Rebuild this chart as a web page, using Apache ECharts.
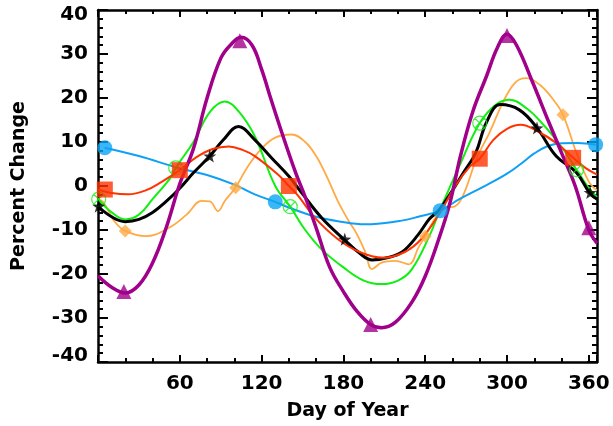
<!DOCTYPE html>
<html><head><meta charset="utf-8">
<script src="https://cdn.jsdelivr.net/npm/echarts@6/dist/echarts.min.js"></script>
<style>html,body{margin:0;padding:0;background:#fff}#c{width:613px;height:426px}</style>
</head><body><div id="c"></div>
<script>
// ---- data (Day of Year, Percent Change) ----
const purpleDays = [0,10,20,30,40,50,60,70,80,90,97,105,113,120,127,135,145,152,160,170,180,190,200,208,218,230,240,250,258,266,275,285,293,300,307,319,330,341,350,360,366];
const purpleVals = [-20.4,-23,-24.3,-22.5,-17.5,-9.5,0.5,8.5,20,29,32,33.8,32,26.5,19.6,12,3,-2.5,-9.5,-18.5,-24,-28.5,-31.5,-32.2,-31,-26.5,-20.5,-12,-4,7,17,25,31.5,34.5,32,23.4,15,6.8,0,-10,-13];
const purpleMarkDays = [19,104,200,300,360];
const purpleMarkVals = [-24,33,-31.5,34.2,-9.5];

const blackDays = [0,10,20,30,40,50,60,70,82,92,103,115,127,140,150,164,180,192,201,212,223,235,243,250,260,268,277,285,295,309,322,336,351,360.5,366];
const blackVals = [-4.6,-7,-8.1,-7.6,-6,-3.5,-0.5,3,6.8,10.5,13.5,10.5,6.5,2.2,-1.8,-7.2,-12,-15.3,-16.8,-16.3,-15,-11,-7.5,-5.5,-1,3,7.5,14.5,18.5,17.3,13.2,6.8,3,-1.5,-3];
const blackMarkDays = [0.5,82,181,322,361];
const blackMarkVals = [-4.6,6.8,-12.1,13.2,-1.5];

const greenDays = [0,10,20,30,40,54,57,70,82,93,103,115,130,141,152,164,180,195,208,220,230,243,251,265,280,292,302,315,325,334,342,351,360,366];
const greenVals = [-3,-6,-7.6,-6.5,-3,2.2,4.1,10,16.8,19.2,17,11.3,0,-4.7,-10,-14.4,-18.5,-21.5,-22.3,-21.5,-19,-11.4,-5.3,4.5,14.3,18.5,19.6,17.5,14.5,11.3,8,3.7,-0.5,-2.5];
const greenMarkDays = [0.5,57,141,280,351];
const greenMarkVals = [-3,4.1,-4.7,14.3,3.7];

const redDays = [0,10,22,35,47,60,72,84,96,106,115,132,140,147,159,176,192,210,225,237,251,262,273,280,290,300,310,322,336,348.5,358,366];
const redVals = [-0.8,-1.6,-1.9,-1,1,3.6,6.5,8.4,9,8.2,6.8,2.6,0,-2.3,-7.2,-12.1,-15,-16.3,-15,-12.1,-6,0,4.5,6.2,10.5,13,13.9,12.5,9.8,6.4,4,2.6];
const redMarkDays = [5,60,140,280,348.5];
const redMarkVals = [-0.8,3.6,0,6.2,6.4];

const orangeDays = [0,4,12,20,35,52,65,76,82,88,93,100.7,110,120,130,142,152,160,168,176,184,190,196,201,208,218,228,235,240,248,255,262,268,278,287,297,306,314,324,334,341,351,360,366];
const orangeVals = [-3,-3.7,-8,-10.2,-11.4,-9.5,-6.5,-3.4,-3.5,-5.7,-3.4,-0.4,4.5,8.5,11,11.7,10,6.8,2,-3.5,-8,-11,-15,-18.9,-17.4,-17,-17.8,-14,-11.4,-7,-5,-4.6,-2,6.5,12,19,23.5,24.5,23,19.6,16.2,7.5,1,-1];
const orangeMarkDays = [20,101,240,341];
const orangeMarkVals = [-10.2,-0.4,-11.4,16.2];

const blueDays = [4.8,30,59,80,100,115,130,140,160,176,196,220,235,250.8,265,285,300,310,320,330,340,352,365];
const blueVals = [8.7,6.8,4.1,2.5,0.3,-1.9,-3.6,-4.9,-7,-8,-8.7,-8,-7,-5.6,-3,0.2,2.8,5,7.4,9.1,9.7,9.8,9.4];
const blueMarkDays = [5,130,251,365];
const blueMarkVals = [8.7,-3.6,-5.6,9.4];

const xTicks = [60,120,180,240,300,360];
const yTicks = [-40,-30,-20,-10,0,10,20,30,40];

// ---- helpers ----
const zip = (a, b) => a.map((d, i) => [d, b[i]]);
const FONT = 'DejaVu Sans';
const starPath = 'path://M0,-10 L2.4,-3.2 9.5,-3.1 3.8,1.2 5.9,8.1 0,4 -5.9,8.1 -3.8,1.2 -9.5,-3.1 -2.4,-3.2 Z';
const circXPath = 'path://M10,0 A10,10 0 1,1 -10,0 A10,10 0 1,1 10,0 Z M-7.07,-7.07 L7.07,7.07 M7.07,-7.07 L-7.07,7.07';

function lineSeries(days, vals, color, width, z) {
  return { type: 'line', data: zip(days, vals), smooth: 0.4, showSymbol: false, symbol: 'none',
    lineStyle: { color: color, width: width }, z: z, clip: true, silent: true };
}
function markSeries(days, vals, symbol, size, style, z) {
  return { type: 'scatter', data: zip(days, vals), symbol: symbol, symbolSize: size,
    itemStyle: style, z: z, clip: false, silent: true };
}

const axisCommon = {
  axisLine: { onZero: false, lineStyle: { color: '#000', width: 2.5 } },
  splitLine: { show: false }, minorSplitLine: { show: false }
};
const labelStyle = { color: '#000', fontFamily: FONT, fontWeight: 'bold', fontSize: 20 };
const nameStyle = { color: '#000', fontFamily: FONT, fontWeight: 'bold', fontSize: 19 };

const chart = echarts.init(document.getElementById('c'), null, { renderer: 'canvas' });
chart.setOption({
  animation: false,
  backgroundColor: '#fff',
  grid: { left: 98, right: 16, top: 10, bottom: 63 },
  xAxis: [
    Object.assign({}, axisCommon, {
      type: 'value', min: 0, max: 366, interval: 60, position: 'bottom',
      axisTick: { inside: true, length: 7, lineStyle: { color: '#000', width: 2 } },
      minorTick: { show: true, splitNumber: 3, length: 4, lineStyle: { color: '#000', width: 2 } },
      axisLabel: Object.assign({}, labelStyle, { margin: 12,
        formatter: v => xTicks.indexOf(v) >= 0 ? String(v) : '' }),
      name: 'Day of Year', nameLocation: 'middle', nameGap: 40,
      nameTextStyle: nameStyle
    }),
    Object.assign({}, axisCommon, {
      type: 'value', min: 0, max: 366, interval: 60, position: 'top',
      axisTick: { inside: true, length: 7, lineStyle: { color: '#000', width: 2 } },
      minorTick: { show: true, splitNumber: 3, length: 4, lineStyle: { color: '#000', width: 2 } },
      axisLabel: { show: false }
    })
  ],
  yAxis: [
    Object.assign({}, axisCommon, {
      type: 'value', min: -40, max: 40, interval: 10, position: 'left',
      axisTick: { inside: true, length: 10, lineStyle: { color: '#000', width: 2 } },
      minorTick: { show: true, splitNumber: 5, length: 5, lineStyle: { color: '#000', width: 2 } },
      axisLabel: Object.assign({}, labelStyle, { margin: 10,
        formatter: v => {
          if (yTicks.indexOf(v) < 0) return '';
          if (v === 40) return '{t|40}';
          if (v === -40) return '{b|-40}';
          return String(v);
        },
        rich: {
          t: Object.assign({}, labelStyle, { padding: [10, 0, 0, 0] }),
          b: Object.assign({}, labelStyle, { padding: [0, 0, 12, 0] })
        }
      }),
      name: 'Percent Change', nameLocation: 'middle', nameGap: 69, nameRotate: 90,
      nameTextStyle: nameStyle
    }),
    Object.assign({}, axisCommon, {
      type: 'value', min: -40, max: 40, interval: 10, position: 'right',
      axisTick: { inside: true, length: 10, lineStyle: { color: '#000', width: 2 } },
      minorTick: { show: true, splitNumber: 5, length: 5, lineStyle: { color: '#000', width: 2 } },
      axisLabel: { show: false }
    })
  ],
  series: [
    lineSeries(orangeDays, orangeVals, '#FFAA44', 1.8, 2),
    markSeries(orangeMarkDays, orangeMarkVals, 'diamond', 13, { color: '#FFAA44' }, 3),
    lineSeries(greenDays, greenVals, '#11EE11', 2, 2),
    markSeries(greenMarkDays, greenMarkVals, circXPath, 14, { color: 'rgba(0,0,0,0)', borderColor: '#11EE11', borderWidth: 1.2 }, 3),
    lineSeries(blueDays, blueVals, '#0EA0F5', 2, 2),
    markSeries(blueMarkDays, blueMarkVals, 'circle', 15, { color: '#0AA5F5' }, 3),
    lineSeries(blackDays, blackVals, '#000000', 3, 2),
    markSeries(blackMarkDays, blackMarkVals, starPath, 13, { color: '#000' }, 3),
    lineSeries(redDays, redVals, '#FF3300', 2, 2),
    markSeries(redMarkDays, redMarkVals, 'rect', 16, { color: '#FF3300' }, 3),
    lineSeries(purpleDays, purpleVals, '#A0008A', 3.5, 2),
    markSeries(purpleMarkDays, purpleMarkVals, 'triangle', 15, { color: '#A0008A' }, 3)
  ]
});
</script></body></html>
